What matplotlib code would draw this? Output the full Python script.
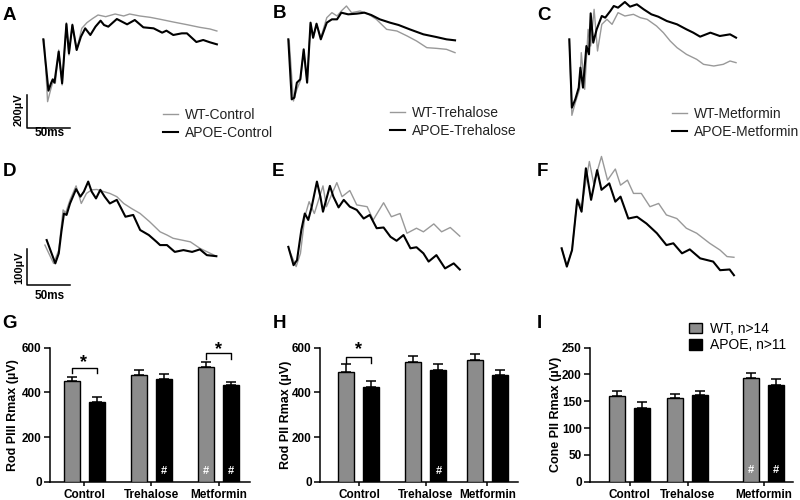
import matplotlib
matplotlib.use("Agg")
import matplotlib.pyplot as plt

plt.rcParams['font.family'] = ['Liberation Sans', 'DejaVu Sans']

# ---- ERG traces (time in ms, amplitude in uV) ----
A_t_wt = [1, 5, 9, 12, 14, 18, 22, 27, 30, 34, 39, 45, 51, 58, 64, 73, 84, 94, 101, 113, 125, 137, 152, 168, 183, 195, 203]
A_v_wt = [-4, -374, -294, -244, -264, -64, -274, 100, -94, 92, -64, 66, 100, 126, 146, 136, 152, 140, 152, 140, 132, 120, 104, 88, 72, 62, 50]
A_t_apoe = [0, 6, 9, 11, 13, 18, 22, 27, 30, 34, 39, 44, 49, 55, 61, 67, 71, 76, 86, 98, 107, 117, 129, 139, 144, 152, 162, 168, 179, 187, 195, 203]
A_v_apoe = [0, -308, -264, -240, -260, -74, -264, 92, -84, 86, -64, 16, 66, 26, 76, 112, 86, 76, 122, 90, 116, 72, 66, 40, 52, 26, 36, 36, -16, -4, -18, -30]

B_t_wt = [1, 6, 10, 14, 18, 22, 26, 29, 33, 38, 45, 51, 57, 62, 68, 74, 84, 94, 103, 115, 127, 139, 150, 162, 173, 185, 195]
B_v_wt = [-6, -370, -300, -250, -70, -250, 94, 6, 90, 10, 130, 160, 140, 170, 200, 160, 170, 150, 120, 60, 50, 20, -10, -50, -54, -60, -80]
B_t_apoe = [0, 4, 7, 10, 14, 18, 22, 26, 29, 33, 38, 45, 51, 57, 62, 70, 80, 89, 97, 107, 119, 129, 142, 158, 173, 185, 195]
B_v_apoe = [0, -360, -350, -260, -240, -60, -260, 100, 10, 94, 0, 100, 120, 120, 160, 150, 154, 160, 146, 120, 100, 86, 60, 30, 14, 0, -6]

C_t_wt = [0, 3, 7, 12, 14, 18, 22, 25, 29, 33, 38, 44, 50, 57, 65, 75, 83, 91, 102, 110, 118, 126, 137, 149, 157, 169, 180, 188, 195]
C_v_wt = [-4, -456, -380, -300, -80, -300, 60, -40, 180, -70, 90, 120, 90, 160, 140, 150, 130, 120, 80, 40, -10, -50, -90, -120, -150, -160, -150, -130, -140]
C_t_apoe = [0, 3, 7, 11, 13, 16, 20, 23, 25, 28, 32, 38, 42, 48, 52, 57, 65, 71, 79, 87, 96, 104, 114, 126, 137, 145, 153, 165, 176, 188, 195]
C_v_apoe = [0, -410, -360, -290, -170, -290, -40, -90, 156, -20, 60, 140, 130, 170, 200, 190, 224, 196, 210, 180, 150, 136, 110, 90, 60, 40, 16, 40, 20, 30, 10]

D_t_wt = [-2, 8, 14, 19, 22, 27, 34, 40, 46, 52, 58, 66, 73, 81, 89, 98, 108, 119, 131, 139, 146, 156, 166, 177, 189, 196]
D_v_wt = [-14, -65, -28, 84, 76, 112, 151, 102, 130, 140, 141, 135, 130, 121, 102, 88, 74, 51, 23, 14, 5, 0, -5, -23, -37, -45]
D_t_apoe = [0, 10, 14, 17, 20, 23, 27, 34, 39, 43, 48, 52, 57, 62, 67, 73, 81, 87, 91, 100, 108, 118, 127, 131, 139, 148, 158, 168, 177, 185, 196]
D_v_apoe = [0, -65, -37, 23, 74, 70, 102, 142, 121, 135, 163, 135, 116, 140, 121, 102, 112, 84, 65, 70, 28, 14, -5, -14, -14, -33, -28, -33, -26, -42, -45]

E_t_wt = [1, 9, 14, 19, 24, 30, 40, 44, 56, 62, 71, 79, 91, 98, 110, 119, 129, 137, 148, 156, 168, 177, 187, 198]
E_v_wt = [-28, -74, -37, 65, 107, 74, 151, 93, 160, 121, 138, 98, 93, 56, 104, 65, 74, 19, 33, 23, 45, 23, 35, 11]
E_t_apoe = [0, 6, 10, 15, 19, 23, 27, 33, 37, 40, 48, 52, 58, 64, 71, 79, 87, 94, 102, 110, 118, 125, 133, 141, 148, 156, 162, 171, 181, 191, 198]
E_v_apoe = [-19, -70, -56, 28, 74, 56, 93, 163, 121, 79, 151, 121, 91, 112, 93, 84, 60, 70, 33, 35, 9, -2, 14, -23, -20, -37, -60, -42, -79, -65, -82]

F_t_wt = [0, 6, 12, 18, 23, 32, 37, 46, 53, 62, 68, 76, 83, 92, 102, 112, 121, 133, 144, 156, 171, 183, 191, 199]
F_v_wt = [-23, -72, -28, 116, 93, 219, 158, 233, 167, 198, 153, 167, 130, 130, 93, 102, 70, 60, 33, 19, -9, -28, -46, -48]
F_t_apoe = [0, 6, 12, 18, 23, 28, 34, 41, 46, 55, 62, 68, 77, 87, 98, 110, 121, 129, 139, 148, 160, 175, 183, 194, 199]
F_v_apoe = [-23, -74, -28, 112, 79, 200, 112, 195, 140, 158, 107, 121, 60, 65, 46, 19, -14, -9, -37, -26, -51, -60, -84, -82, -98]

# ---- Rmax bar data (mean, SEM) ----
groups = ['Control', 'Trehalose', 'Metformin']
G_wt = [451, 476, 512]
G_wt_se = [18, 22, 22]
G_apoe = [355, 458, 433]
G_apoe_se = [23, 24, 13]
H_wt = [492, 535, 543]
H_wt_se = [33, 27, 30]
H_apoe = [423, 498, 477]
H_apoe_se = [27, 30, 21]
I_wt = [159, 156, 193]
I_wt_se = [10, 8, 10]
I_apoe = [137, 162, 180]
I_apoe_se = [11, 7, 12]

GRAY_TRACE = '#999999'
GRAY_BAR = '#8c8c8c'
W, H = 800, 500

fig = plt.figure(figsize=(8, 5), dpi=100)


def rect(left, top, width, height):
    return [left / W, 1 - (top + height) / H, width / W, height / H]


def trace_panel(r, xlim, ylim, t_wt, v_wt, t_apoe, v_apoe, labels, leg_xy):
    ax = fig.add_axes(r)
    l1, = ax.plot(t_wt, v_wt, color=GRAY_TRACE, lw=1.0)
    l2, = ax.plot(t_apoe, v_apoe, color='black', lw=1.5)
    ax.set_xlim(xlim)
    ax.set_ylim(ylim)
    ax.axis('off')
    if labels:
        ax.legend([l1, l2], labels, loc='upper left', frameon=False,
                  bbox_to_anchor=(leg_xy[0] / W, 1 - leg_xy[1] / H),
                  bbox_transform=fig.transFigure, borderpad=0, borderaxespad=0,
                  handlelength=1.1, handletextpad=0.5, labelspacing=0.3,
                  fontsize=10, labelcolor='#222222')
    return ax


row1_x = (-22, 218)
row1_y = (-664, 236)
row2_x = (-25, 215)
row2_y = (-181, 251)

axA = trace_panel(rect(24.5, 0, 205.2, 150), row1_x, row1_y, A_t_wt, A_v_wt, A_t_apoe, A_v_apoe,
                  ['WT-Control', 'APOE-Control'], (163, 108))
trace_panel(rect(269.5, 0, 205.2, 150), row1_x, row1_y, B_t_wt, B_v_wt, B_t_apoe, B_v_apoe,
            ['WT-Trehalose', 'APOE-Trehalose'], (390, 106))
trace_panel(rect(550.5, 0, 205.2, 150), row1_x, row1_y, C_t_wt, C_v_wt, C_t_apoe, C_v_apoe,
            ['WT-Metformin', 'APOE-Metformin'], (672, 107))
axD = trace_panel(rect(25, 150, 207.8, 155), row2_x, row2_y, D_t_wt, D_v_wt, D_t_apoe, D_v_apoe, None, None)
trace_panel(rect(266.7, 150, 207.8, 155), row2_x, row2_y, E_t_wt, E_v_wt, E_t_apoe, E_v_apoe, None, None)
trace_panel(rect(540, 150, 207.8, 155), row2_x, row2_y, F_t_wt, F_v_wt, F_t_apoe, F_v_apoe, None, None)

# scale bars
axA.plot([-19, -19, 31], [-332, -532, -532], color='black', lw=1.1, clip_on=False)
axA.text(-28.5, -425, '200\u00b5V', rotation=90, ha='center', va='center', fontsize=8, fontweight='bold')
axA.text(7.5, -565, '50ms', ha='center', va='center', fontsize=8.5, fontweight='bold')
axD.plot([-23, -23, 27], [-26, -126, -126], color='black', lw=1.1, clip_on=False)
axD.text(-31.5, -78, '100\u00b5V', rotation=90, ha='center', va='center', fontsize=8, fontweight='bold')
axD.text(3.5, -155, '50ms', ha='center', va='center', fontsize=8.5, fontweight='bold')


def bar_panel(left, right, centers, wt, wt_se, apoe, apoe_se, ymax, yticks, ylabel, lab_x):
    ax = fig.add_axes(rect(left, 347.7, right - left, 134))
    xw = [c - 12.5 for c in centers]
    xa = [c + 12.5 for c in centers]
    zero = [0] * len(centers)
    ax.errorbar(xw, wt, yerr=[zero, wt_se], fmt='none', ecolor='black', elinewidth=1.1, capsize=3.5, capthick=1.1)
    ax.errorbar(xa, apoe, yerr=[zero, apoe_se], fmt='none', ecolor='black', elinewidth=1.1, capsize=3.5, capthick=1.1)
    b1 = ax.bar(xw, wt, width=16, color=GRAY_BAR, edgecolor='black', linewidth=1.0, zorder=3)
    b2 = ax.bar(xa, apoe, width=16, color='black', edgecolor='black', linewidth=1.0, zorder=3)
    ax.set_xlim(left, right)
    ax.set_ylim(0, ymax)
    ax.set_yticks(yticks)
    ax.set_xticks(centers)
    ax.set_xticklabels(groups, fontsize=8.5, fontweight='bold')
    for s in ['top', 'right']:
        ax.spines[s].set_visible(False)
    for s in ['left', 'bottom']:
        ax.spines[s].set_linewidth(1.1)
    ax.tick_params(axis='y', length=4, width=1.1, labelsize=8.5, pad=2)
    ax.tick_params(axis='x', length=3, width=1.1, pad=2)
    for t in ax.get_yticklabels():
        t.set_fontweight('bold')
    ax.set_ylabel(ylabel, fontsize=9, fontweight='bold')
    ax.yaxis.set_label_coords(lab_x, 0.5)
    return ax, xw, xa, b1, b2


def bracket(ax, x1, x2, low, top, star_y):
    ax.plot([x1, x1, x2, x2], [low, top, top, low], color='black', lw=1.0, clip_on=False)
    ax.text((x1 + x2) / 2, star_y, '*', ha='center', va='center', fontsize=13, fontweight='bold')


def hashes(ax, xs, y):
    for x in xs:
        ax.text(x, y, '#', color='white', ha='center', va='center', fontsize=8, fontweight='bold', zorder=5)


axG, xw, xa, _, _ = bar_panel(50, 250, [84, 151, 218.5], G_wt, G_wt_se, G_apoe, G_apoe_se,
                              600, [0, 200, 400, 600], 'Rod PIII Rmax (\u00b5V)', -0.155)
bracket(axG, xw[0], xa[0], 485, 507, 535)
bracket(axG, xw[2], xa[2], 548, 575, 592)
hashes(axG, [xa[1], xw[2], xa[2]], 50)

axH, xw, xa, _, _ = bar_panel(320, 518, [359, 426, 487.5], H_wt, H_wt_se, H_apoe, H_apoe_se,
                              600, [0, 200, 400, 600], 'Rod PII Rmax (\u00b5V)', -0.14)
bracket(axH, xw[0], xa[0], 532, 558, 590)
hashes(axH, [xa[1]], 50)

axI, xw, xa, b1, b2 = bar_panel(590, 793, [629.5, 687.5, 763.5], I_wt, I_wt_se, I_apoe, I_apoe_se,
                                250, [0, 50, 100, 150, 200, 250], 'Cone PII Rmax (\u00b5V)', -0.14)
hashes(axI, [xw[2], xa[2]], 21)
axI.legend([b1, b2], ['WT, n>14', 'APOE, n>11'], loc='upper left', frameon=False,
           bbox_to_anchor=(689 / W, 1 - 322 / H), bbox_transform=fig.transFigure,
           borderpad=0, borderaxespad=0, handlelength=0.95, handleheight=0.8,
           handletextpad=0.55, labelspacing=0.15, fontsize=10)

# panel letters
letters = [('A', 3, 16), ('B', 273, 13), ('C', 537, 15), ('D', 3, 171), ('E', 272, 171),
           ('F', 537, 171), ('G', 2, 323), ('H', 273, 324), ('I', 537, 323)]
for s, x, y in letters:
    fig.text(x / W, 1 - y / H, s, fontsize=13.5, fontweight='bold', ha='left', va='center')

fig.savefig('out.png', dpi=100)
